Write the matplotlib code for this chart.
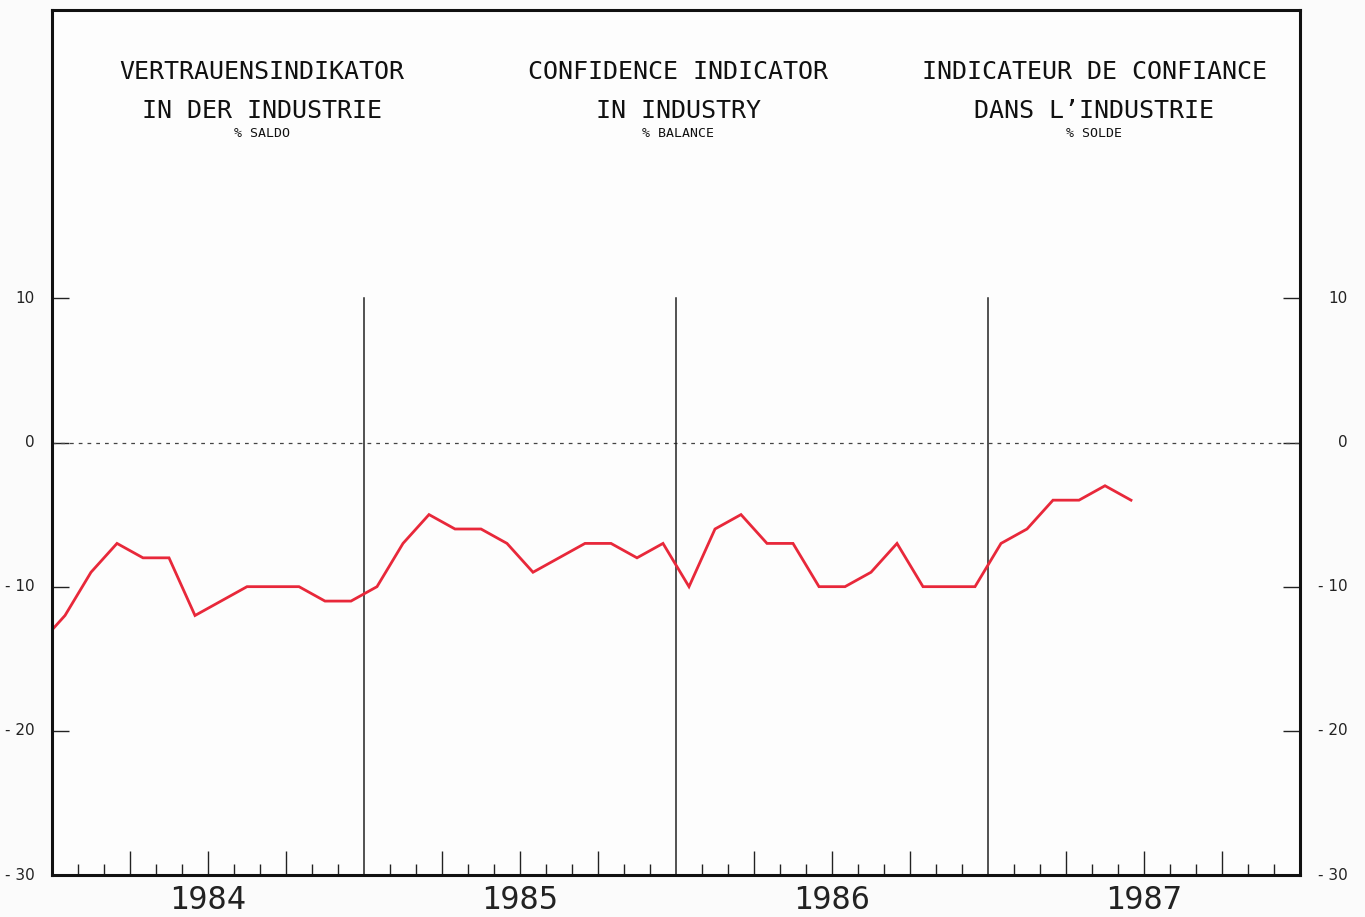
import matplotlib
matplotlib.use("Agg")
import matplotlib.pyplot as plt
import numpy as np

# ---- data ----
years = ["1984", "1985", "1986", "1987"]
prev_dec_1983 = [-14]
values_1984 = [-12, -9, -7, -8, -8, -12, -11, -10, -10, -10, -11, -11]
values_1985 = [-10, -7, -5, -6, -6, -7, -9, -8, -7, -7, -8, -7]
values_1986 = [-10, -6, -5, -7, -7, -10, -10, -9, -7, -10, -10, -10]
values_1987 = [-7, -6, -4, -4, -3, -4]
ytick_values = [10, 0, -10, -20, -30]
ytick_labels = ["10", "0", "- 10", "- 20", "- 30"]
titles = [
    ("VERTRAUENSINDIKATOR", "IN DER INDUSTRIE", "% SALDO"),
    ("CONFIDENCE INDICATOR", "IN INDUSTRY", "% BALANCE"),
    ("INDICATEUR DE CONFIANCE", "DANS L\u2019INDUSTRIE", "% SOLDE"),
]

series = prev_dec_1983 + values_1984 + values_1985 + values_1986 + values_1987
months = np.arange(len(series)) - 1 + 0.5  # Dec 1983 at -0.5, Jan 1984 at 0.5

W, H = 1365, 917
fig = plt.figure(figsize=(W / 100, H / 100), dpi=100, facecolor="#fbfbfb")
ax = fig.add_axes([52 / W, (H - 875) / H, 1248 / W, 865 / H], facecolor="#fdfdfd")
ax.set_xlim(0, 48)
ax.set_ylim(-30, 30)

for s in ax.spines.values():
    s.set_linewidth(2.2)
    s.set_color("#111111")

# zero line
ax.axhline(0, color="#444444", lw=0.9, ls=(0, (3, 4)))
# year boundaries
for k in range(1, len(years)):
    ax.plot([12 * k, 12 * k], [-30, 10], color="#222222", lw=1.1)

# data line
ax.plot(months, series, color="#e8283a", lw=2.0, solid_joinstyle="miter", clip_on=True)

# y ticks
ax.set_yticks([10, 0, -10, -20])
ax.tick_params(axis="y", which="major", direction="in", length=12, width=1.0,
               left=True, right=True, labelleft=False, labelright=False, color="#222222")
yt = ax.get_yaxis_transform()
for v, lab in zip(ytick_values, ytick_labels):
    ax.text(-0.0136, v, lab, transform=yt, ha="right", va="center",
            fontsize=11, color="#222222", family="DejaVu Sans")
    ax.text(1.0385, v, lab, transform=yt, ha="right", va="center",
            fontsize=11, color="#222222", family="DejaVu Sans")

# x ticks
quarter = [q for q in range(3, 48, 3) if q % 12 != 0]
monthly = [m for m in range(1, 48) if m % 3 != 0]
ax.set_xticks(quarter)
ax.set_xticks(monthly, minor=True)
ax.tick_params(axis="x", which="major", direction="in", length=17, width=1.0,
               labelbottom=False, color="#222222")
ax.tick_params(axis="x", which="minor", direction="in", length=8, width=1.0,
               color="#222222")

xt = ax.get_xaxis_transform()
for i, y in enumerate(years):
    ax.text(12 * i + 6, -0.03, y, transform=xt, ha="center", va="center",
            fontsize=23, color="#222222", family="DejaVu Sans Mono")

centers = [262, 678, 1094]
for c, (l1, l2, l3) in zip(centers, titles):
    xc = (c - 52) / 1248
    ax.text(xc, 0.928, l1, transform=ax.transAxes, ha="center", va="center",
            fontsize=18, family="DejaVu Sans Mono", color="#111111")
    ax.text(xc, 0.883, l2, transform=ax.transAxes, ha="center", va="center",
            fontsize=18, family="DejaVu Sans Mono", color="#111111")
    ax.text(xc, 0.857, l3, transform=ax.transAxes, ha="center", va="center",
            fontsize=9.5, family="DejaVu Sans Mono", color="#111111")

fig.savefig("out.png", dpi=100, facecolor=fig.get_facecolor())
